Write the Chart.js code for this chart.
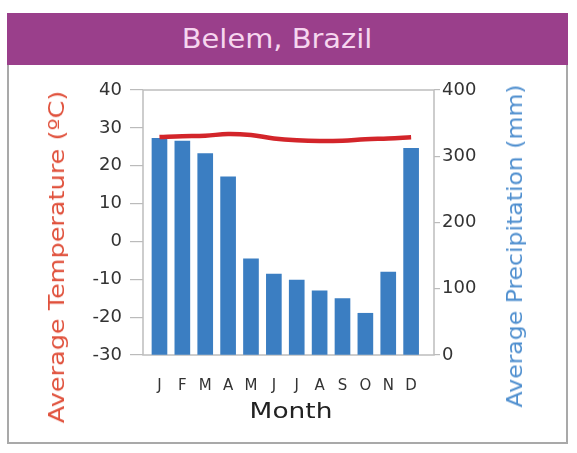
<!DOCTYPE html>
<html>
<head>
<meta charset="utf-8">
<script src="https://cdn.jsdelivr.net/npm/chart.js@4.4.0/dist/chart.umd.min.js"></script>
<style>
  body { margin: 0; width: 577px; height: 453px; background: #fff; position: relative; overflow: hidden; font-family: "DejaVu Sans", sans-serif; }
  #head { position: absolute; left: 7px; top: 13px; width: 561px; height: 52px; background: #9a3f8b; text-align: center; line-height: 52px; }
  #head span { display: inline-block; color: #f6d6ef; font-size: 27px; margin-right: 20px; transform: scaleX(1.07); }
  #box { position: absolute; left: 7px; top: 65px; width: 557px; height: 377px; border: 2px solid #a9a9a9; border-top: none; }
  #wrap { position: absolute; left: 0; top: 0; width: 577px; height: 453px; }
  .lbl { position: absolute; white-space: nowrap; line-height: 22px; font-size: 22px; }
  #lblT { left: 57px; top: 257px; color: #e0513c; transform: translate(-50%, -50%) rotate(-90deg) scaleX(1.16); }
  #lblP { left: 515px; top: 246px; color: #4f8fcf; transform: translate(-50%, -50%) rotate(-90deg) scaleX(1.07); }
  #lblM { left: 291px; top: 411px; color: #222; transform: translate(-50%, -50%) scaleX(1.2); }
</style>
</head>
<body>
<div id="head"><span>Belem, Brazil</span></div>
<div id="box"></div>
<div id="wrap"><canvas id="grafik-iklim"></canvas></div>
<div class="lbl" id="lblT">Average Temperature (ºC)</div>
<div class="lbl" id="lblP">Average Precipitation (mm)</div>
<div class="lbl" id="lblM">Month</div>
<script>
// data
const months = ['J', 'F', 'M', 'A', 'M', 'J', 'J', 'A', 'S', 'O', 'N', 'D'];
const precipitation = [327, 323, 304, 269, 145, 122, 113, 97, 85, 63, 125, 312];
const temperature = [27.6, 27.8, 27.9, 28.4, 28.1, 27.2, 26.7, 26.5, 26.6, 27.0, 27.2, 27.5];
const tempTicks = [-30, -20, -10, 0, 10, 20, 30, 40];
const precipTicks = [0, 100, 200, 300, 400];

// kotak abu-abu di sekeliling area plot
const plotBox = {
  id: 'plotBox',
  beforeDatasetsDraw(chart) {
    const a = chart.chartArea;
    const c = chart.ctx;
    c.save();
    c.strokeStyle = '#bdbdbd';
    c.lineWidth = 1.5;
    c.strokeRect(a.left, a.top, a.right - a.left, a.bottom - a.top);
    c.restore();
  }
};

new Chart(document.getElementById('grafik-iklim'), {
  type: 'bar',
  data: {
    datasets: [{
      type: 'line',
      label: 'Average Temperature',
      data: temperature.map((t, i) => ({ x: i + 1, y: t })),
      yAxisID: 'yT',
      borderColor: '#d3252a',
      borderWidth: 4.5,
      pointRadius: 0,
      tension: 0.4,
      order: 0
    }, {
      label: 'Average Precipitation',
      data: precipitation.map((p, i) => ({ x: i + 1, y: p })),
      yAxisID: 'yP',
      backgroundColor: '#3b7ec2',
      barThickness: 15,
      order: 1
    }]
  },
  options: {
    responsive: true,
    maintainAspectRatio: false,
    animation: false,
    layout: { padding: { left: 41, right: 46, top: 90, bottom: 26 } },
    plugins: { legend: { display: false }, tooltip: { enabled: false } },
    scales: {
      x: {
        type: 'linear',
        offset: false,
        min: 0.28,
        max: 13,
        grid: { display: false },
        border: { display: false },
        ticks: {
          stepSize: 1,
          includeBounds: false,
          autoSkip: false,
          maxRotation: 0,
          padding: 14,
          color: '#333',
          font: { family: 'DejaVu Sans', size: 15 },
          callback: function(value) {
            return months[value - 1] || '';
          }
        },
        afterFit: function(scale) { scale.height = 72; }
      },
      yT: {
        position: 'left',
        min: -30,
        max: 40,
        grid: { drawOnChartArea: false, color: '#bbb', tickLength: 13, lineWidth: 1.2 },
        border: { display: false },
        ticks: {
          stepSize: 10,
          padding: 8,
          color: '#333',
          font: { family: 'DejaVu Sans', size: 18 },
          callback: function(value) {
            return tempTicks.includes(value) ? value : '';
          }
        },
        afterFit: function(scale) { scale.width = 102; }
      },
      yP: {
        position: 'right',
        min: 0,
        max: 400,
        grid: { drawOnChartArea: false, color: '#bbb', tickLength: 6, lineWidth: 1.2 },
        border: { display: false },
        ticks: {
          stepSize: 100,
          padding: 2,
          color: '#333',
          font: { family: 'DejaVu Sans', size: 18 },
          callback: function(value) {
            return precipTicks.includes(value) ? value : '';
          }
        },
        afterFit: function(scale) { scale.width = 97; }
      }
    }
  },
  plugins: [plotBox]
});
</script>
</body>
</html>
